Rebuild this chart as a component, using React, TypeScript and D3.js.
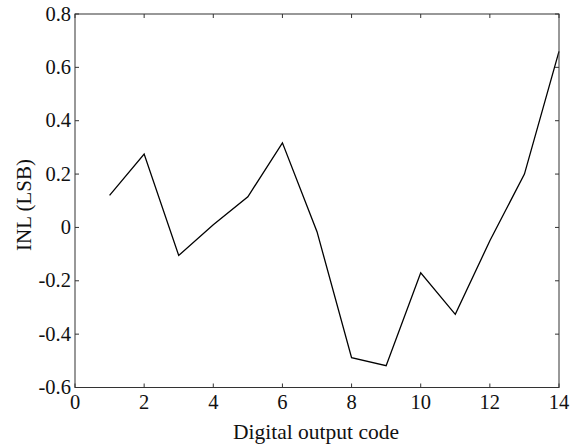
import React from "react";
import * as d3 from "d3";

const codes = [1, 2, 3, 4, 5, 6, 7, 8, 9, 10, 11, 12, 13, 14];
const inl = [0.12, 0.275, -0.105, 0.01, 0.115, 0.317, -0.016, -0.488, -0.518, -0.17, -0.326, -0.05, 0.2, 0.66];
const xTicks = [0, 2, 4, 6, 8, 10, 12, 14];
const yTicks = [-0.6, -0.4, -0.2, 0, 0.2, 0.4, 0.6, 0.8];

const W = 578, H = 447;
const L = 75, R = 559, T = 14, B = 387.5;

export default function App() {
  const x = d3.scaleLinear().domain([0, 14]).range([L, R]);
  const y = d3.scaleLinear().domain([-0.6, 0.8]).range([B, T]);
  const line = d3.line<number>().x((_, i) => x(codes[i])).y((d) => y(d));
  const font = "'Liberation Serif', 'Times New Roman', serif";
  const axisColor = "#333";
  const tl = 4;
  const fs = 20.5;
  const fmt = (v: number) => (v === 0 ? "0" : v.toFixed(1));
  return (
    <svg width={W} height={H} style={{ position: "absolute", left: 0, top: 0 }} fontFamily={font}>
      <rect x={0} y={0} width={W} height={H} fill="#fff" />
      <path d={line(inl) || ""} fill="none" stroke="#000" strokeWidth={1.3} />
      <rect x={L} y={T} width={R - L} height={B - T} fill="none" stroke={axisColor} strokeWidth={1} />
      {xTicks.map((t) => (
        <g key={"x" + t}>
          <line x1={x(t)} x2={x(t)} y1={B} y2={B - tl} stroke={axisColor} />
          <line x1={x(t)} x2={x(t)} y1={T} y2={T + tl} stroke={axisColor} />
          <text x={x(t)} y={409} textAnchor="middle" fontSize={fs} fill="#111">{t}</text>
        </g>
      ))}
      {yTicks.map((t) => (
        <g key={"y" + t}>
          <line x1={L} x2={L + tl} y1={y(t)} y2={y(t)} stroke={axisColor} />
          <line x1={R} x2={R - tl} y1={y(t)} y2={y(t)} stroke={axisColor} />
          <text x={L - 4} y={y(t) + 6.5} textAnchor="end" fontSize={fs} fill="#111">{fmt(t)}</text>
        </g>
      ))}
      <text x={316} y={439} textAnchor="middle" fontSize={21.5} fill="#111">Digital output code</text>
      <text transform={`translate(31, 205) rotate(-90)`} textAnchor="middle" fontSize={21} fill="#111">INL (LSB)</text>
    </svg>
  );
}
